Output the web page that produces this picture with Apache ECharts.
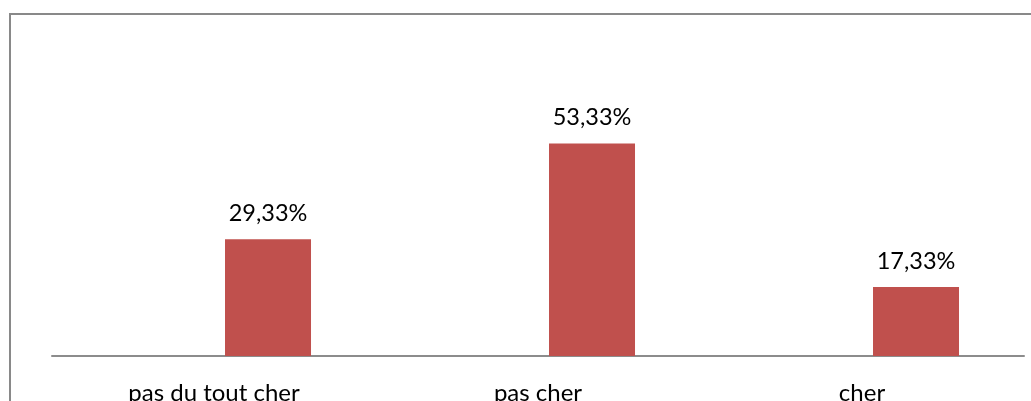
<!DOCTYPE html>
<html><head><meta charset="utf-8">
<script src="https://cdn.jsdelivr.net/npm/echarts@6/dist/echarts.min.js"></script>
<style>html,body{margin:0;padding:0;background:#fff}#c{width:1031px;height:401px}</style>
</head><body><div id="c"></div>
<script>
const categories = ['pas du tout cher', 'pas cher', 'cher'];
const values = [29.33, 53.33, 17.33];
const placeholder = [null, null, null];

const chart = echarts.init(document.getElementById('c'));
chart.setOption({
  animation: false,
  backgroundColor: '#fff',
  textStyle: { fontFamily: 'Lato' },
  graphic: [{
    type: 'rect', silent: true, z: -1,
    shape: { x: 10, y: 14, width: 1200, height: 600 },
    style: { fill: 'none', stroke: '#898989', lineWidth: 2 }
  }],
  grid: { left: 52, right: 7, top: 117, bottom: 45, containLabel: false, outerBoundsMode: 'none' },
  xAxis: {
    type: 'category', data: categories,
    axisLine: { lineStyle: { color: '#8c8c8c', width: 2 } },
    axisTick: { show: false },
    axisLabel: { color: '#000', fontSize: 24, fontFamily: 'Lato', margin: 25 }
  },
  yAxis: {
    type: 'value', min: 0, max: 60, show: false,
    splitLine: { show: false }
  },
  series: [
    { type: 'bar', data: placeholder, barWidth: 86, barGap: '25.6%' },
    {
      type: 'bar', data: values, barWidth: 86, barGap: '25.6%',
      itemStyle: { color: '#C0504D' },
      label: {
        show: true, position: 'top', distance: 14,
        color: '#000', fontSize: 23.5, fontFamily: 'Lato',
        formatter: p => p.value.toFixed(2).replace('.', ',') + '%'
      }
    }
  ]
});
</script></body></html>
